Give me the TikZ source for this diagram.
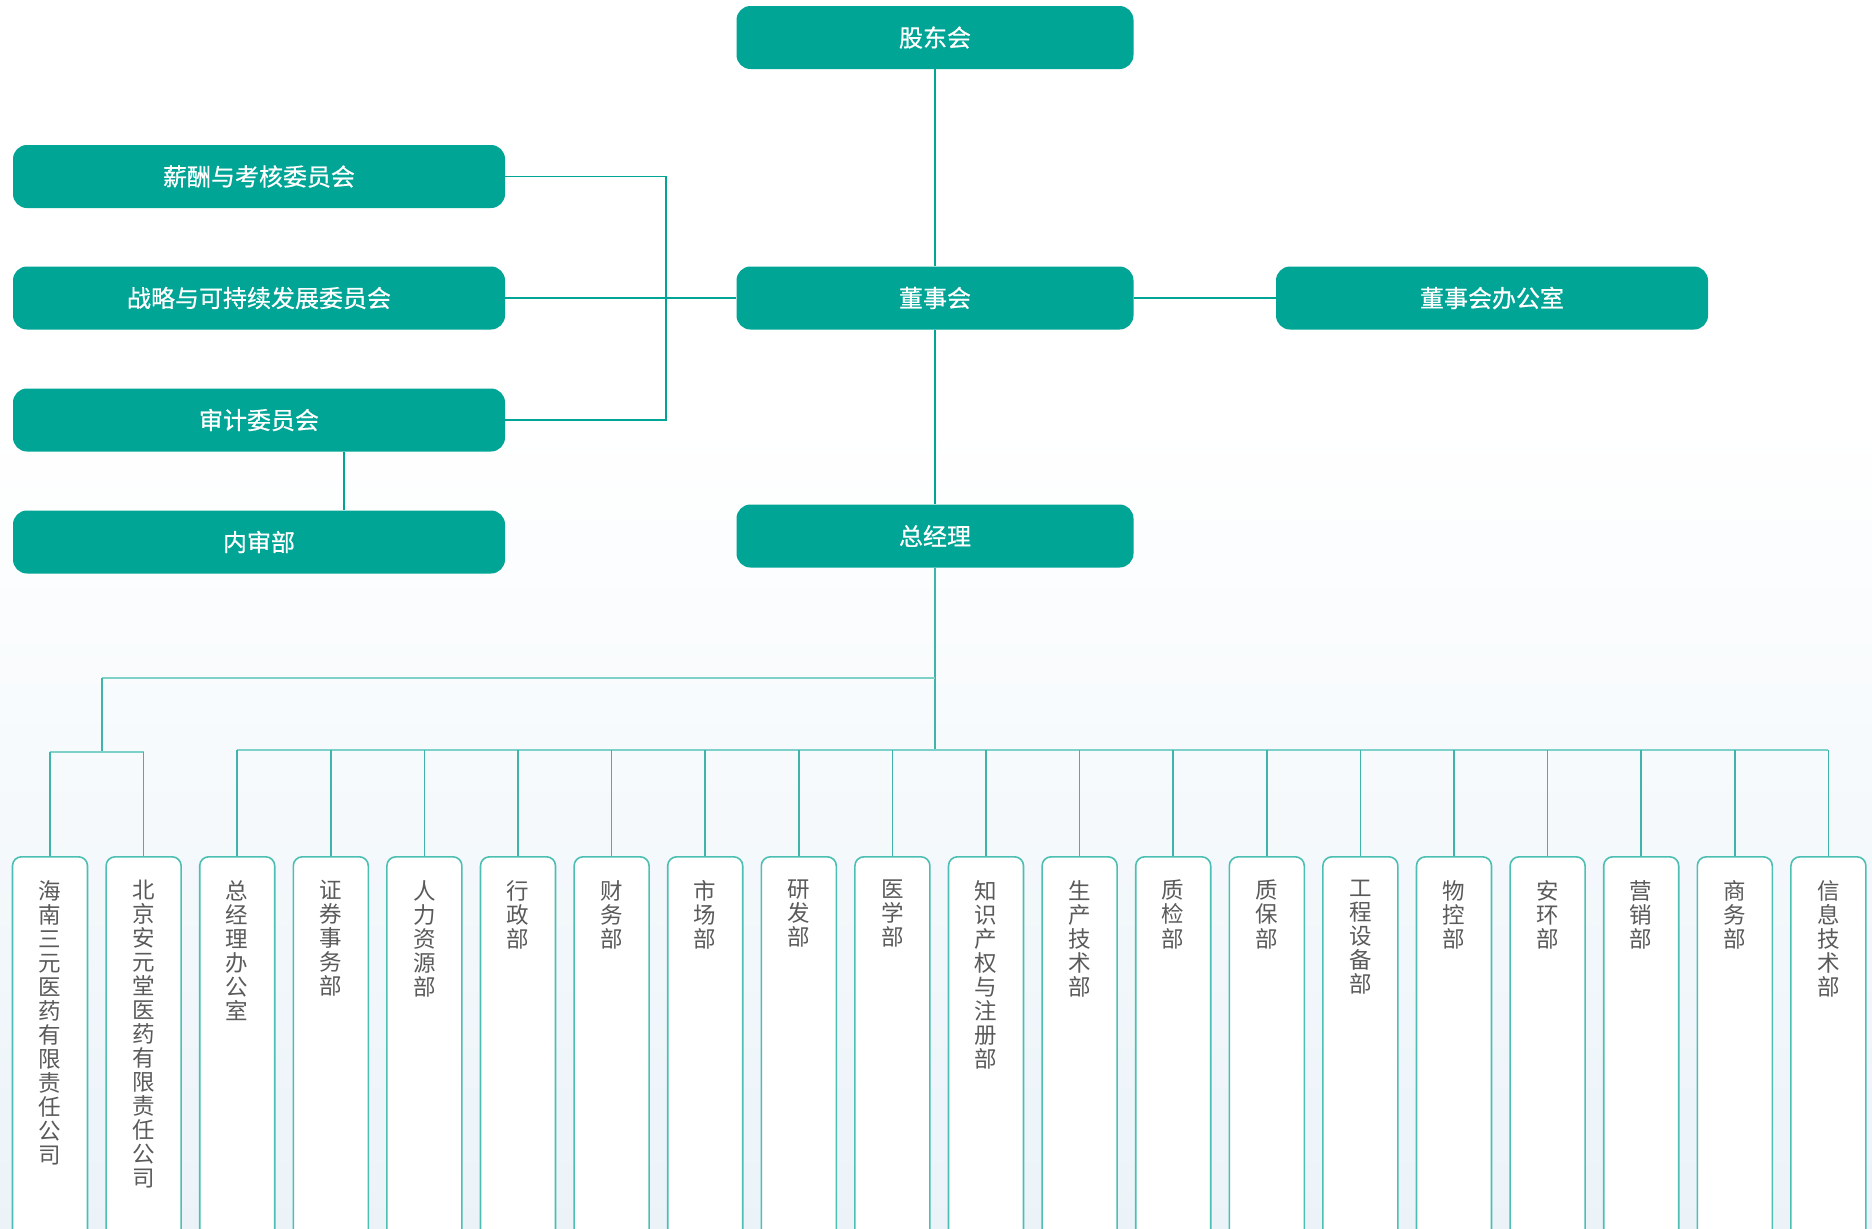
\documentclass[tikz,border=0pt]{standalone}
\usepackage{fontspec}
\setmainfont{Noto Sans CJK SC}
\newfontfamily\topfont[FakeBold=0.6]{Noto Sans CJK SC}
\usetikzlibrary{positioning}

\definecolor{orgteal}{HTML}{00A596}
\definecolor{dropc}{HTML}{3DB5A9}
\definecolor{busc}{HTML}{7DD1C8}
\definecolor{boxline}{HTML}{4CBFB3}
\definecolor{txtgray}{HTML}{5A5A5A}
\definecolor{bgblue}{HTML}{EBF3F9}

\newcommand\colstack[1]{\expandafter\colstackA#1\colstackEnd}
\def\colstackA#1{\ifx\colstackEnd#1\else#1\\\expandafter\colstackA\fi}

\tikzset{
  topbox/.style={rectangle, rounded corners=14, fill=orgteal, text=white,
    minimum height=63, inner sep=0, font=\topfont\fontsize{24}{28}\selectfont},
  lowbox/.style={rectangle, rounded corners=9, draw=boxline, line width=1.6,
    fill=white, minimum width=75, minimum height=420, anchor=north},
  lowtext/.style={text=txtgray, align=center, inner sep=0,
    font=\fontsize{22.5}{24}\selectfont},
  link/.style={draw=orgteal, line width=1.3},
  drop/.style={draw=dropc, line width=1.6},
  busline/.style={draw=busc, line width=2.6}
}

\begin{document}
\begin{tikzpicture}[x=1pt,y=-1pt]
  \useasboundingbox (0,0) rectangle (1872,1229);
  \fill[white] (0,0) rectangle (1872,1229);
  \fill[top color=white, bottom color=bgblue] (0,420) rectangle (1872,1229);
  \clip (0,0) rectangle (1872,1229);

  \node[topbox, minimum width=397] (gdh) at (935,37.5) {股东会};
  \node[topbox, minimum width=397] (dsh) at (935,298) {董事会};
  \node[topbox, minimum width=432] (dsb) at (1492,298) {董事会办公室};
  \node[topbox, minimum width=397] (zjl) at (935,536) {总经理};
  \node[topbox, minimum width=492] (xckh) at (259,176.5) {薪酬与考核委员会};
  \node[topbox, minimum width=492] (zlfz) at (259,298) {战略与可持续发展委员会};
  \node[topbox, minimum width=492] (sjwy) at (259,420) {审计委员会};
  \node[topbox, minimum width=492] (nsb) at (259,542) {内审部};

  \coordinate (brk) at (666,298);
  \coordinate (tap) at (344,0);
  \coordinate (fork) at (102,678);
  \coordinate (bus) at (0,750);
  \coordinate (subbus) at (0,752);

  \draw[link] (gdh) -- (dsh);
  \draw[link] (dsh) -- (dsb);
  \draw[link] (zlfz) -- (dsh);
  \draw[link] (xckh.east) -| (brk) |- (sjwy.east);
  \draw[link] (sjwy.south -| tap) -- (nsb.north -| tap);
  \draw[link] (dsh) -- (zjl);

  \foreach \t [count=\i] in {海南三元医药有限责任公司,北京安元堂医药有限责任公司,
      总经理办公室,证券事务部,人力资源部,行政部,财务部,市场部,研发部,医学部,
      知识产权与注册部,生产技术部,质检部,质保部,工程设备部,物控部,安环部,
      营销部,商务部,信息技术部} {
    \node[lowbox] (d\i) at ({50+93.6*(\i-1)},856) {};
    \node[lowtext, below=24pt of d\i.north] {\colstack{\t}};
  }

  \draw[drop] (zjl.south) -- (zjl.south |- bus);
  \draw[busline] (zjl.south |- fork) -- (fork);
  \draw[drop] (fork) -- (fork |- subbus);
  \draw[busline] (d1.north |- subbus) -- (d2.north |- subbus);
  \draw[drop] (d1.north |- subbus) -- (d1.north);
  \draw[drop] (d2.north |- subbus) -- (d2.north);
  \draw[busline] (d3.north |- bus) -- (d20.north |- bus);
  \foreach \i in {3,...,20}
    \draw[drop] (d\i.north |- bus) -- (d\i.north);
\end{tikzpicture}
\end{document}
